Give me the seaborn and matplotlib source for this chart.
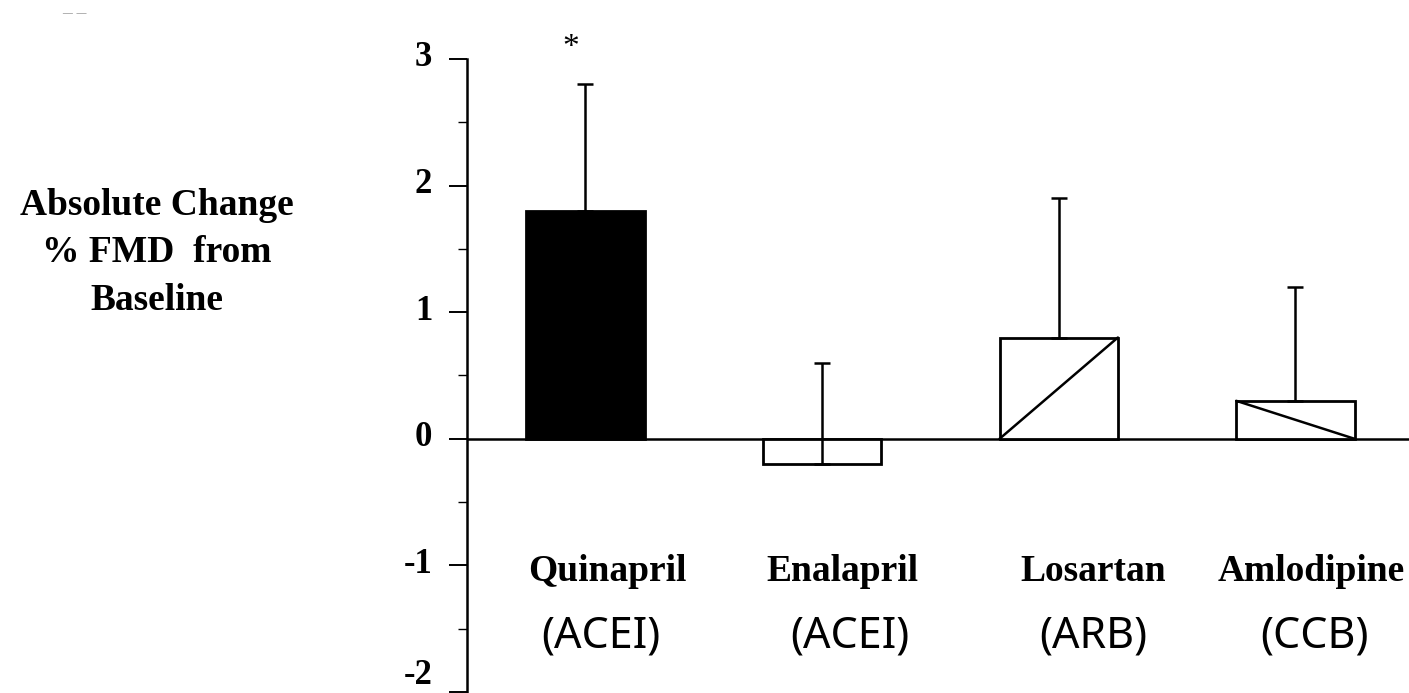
import matplotlib
matplotlib.use("Agg")
import matplotlib.pyplot as plt
import matplotlib.transforms as mtransforms
from matplotlib.ticker import MultipleLocator
import pandas as pd
import seaborn as sns

# Absolute change in %FMD from baseline, by treatment
drugs = ["Quinapril", "Enalapril", "Losartan", "Amlodipine"]
drug_classes = ["(ACEI)", "(ACEI)", "(ARB)", "(CCB)"]
change = [1.8, -0.2, 0.8, 0.3]
err_upper = [1.0, 0.8, 1.1, 0.9]
significance = ["*", "", "", ""]
yticks = [-2, -1, 0, 1, 2, 3]
ylabel = "Absolute Change\n% FMD  from\nBaseline"

# Styling per bar
fills = ["black", "white", "white", "white"]
diagonals = [None, None, "up", "down"]
name_dx = [0.094, 0.088, 0.146, 0.069]
class_dx = [0.065, 0.118, 0.146, 0.08]

sns.set_style("white")
plt.rcParams["font.family"] = ["Liberation Serif", "DejaVu Serif"]
plt.rcParams["axes.unicode_minus"] = False
plt.rcParams["text.color"] = "black"
plt.rcParams["ytick.color"] = "black"
plt.rcParams["ytick.labelcolor"] = "black"

W, H = 1409, 693
fig = plt.figure(figsize=(W / 100, H / 100), dpi=100)
ax = fig.add_axes([467 / W, 1 / H, 1 - 467 / W, 633 / H])

df = pd.DataFrame({"drug": drugs, "change": change})
sns.barplot(data=df, x="drug", y="change", hue="drug",
            palette=dict(zip(drugs, fills)), legend=False, width=0.5,
            edgecolor="black", linewidth=2.0, saturation=1,
            errorbar=None, ax=ax, zorder=2)

# upper error bars only
ax.errorbar(range(len(drugs)), change, yerr=[[0] * len(drugs), err_upper],
            fmt="none", ecolor="black", elinewidth=1.8, capsize=6,
            capthick=1.8, zorder=3)

ax.axhline(0, color="black", lw=1.8, zorder=1)

# diagonal fill pattern on the open bars
patches = sorted(ax.patches, key=lambda p: p.get_x())
for p, d in zip(patches, diagonals):
    if d is None:
        continue
    x0, w, h = p.get_x(), p.get_width(), p.get_height()
    ys = [0, h] if d == "up" else [h, 0]
    ax.plot([x0, x0 + w], ys, color="black", lw=1.8, zorder=3)

# significance marks
for i, s in enumerate(significance):
    if s:
        ax.text(i - 0.06, change[i] + err_upper[i] + 0.29, s, ha="center",
                va="center", fontsize=24, color="black", clip_on=False)

# category labels inside the plotting area
for i, (name, cls) in enumerate(zip(drugs, drug_classes)):
    ax.text(i + name_dx[i], -1.123, name, ha="center", va="baseline",
            fontsize=27, fontweight="bold", color="black")
    ax.text(i + class_dx[i], -1.652, cls, ha="center", va="baseline",
            fontsize=31, family=["Noto Sans", "DejaVu Sans"], color="black")

ax.set_ylim(-2, 3)
ax.set_xlim(-0.5, 3.48)
ax.set_xticks([])
ax.set_xlabel("")
ax.set_ylabel("")
ax.set_yticks(yticks)
ax.set_yticklabels([str(t) for t in yticks])
ax.yaxis.set_minor_locator(MultipleLocator(0.5))
ax.tick_params(axis="y", which="major", left=True, length=13, width=1.4,
               direction="out", pad=12, labelsize=25, colors="black")
ax.tick_params(axis="y", which="minor", left=True, length=6.5, width=1.0,
               direction="out", colors="black")
for lab, t in zip(ax.get_yticklabels(), yticks):
    lab.set_fontweight("bold")
    up = 0.2 if t == yticks[0] else 0.05
    shift = mtransforms.ScaledTranslation(0, up, fig.dpi_scale_trans)
    lab.set_transform(lab.get_transform() + shift)

for side in ["top", "right", "bottom"]:
    ax.spines[side].set_visible(False)
ax.spines["left"].set_linewidth(1.8)
ax.spines["left"].set_color("black")

fig.text(157 / W, 1 - 253 / H, ylabel, ha="center", va="center",
         multialignment="center", fontsize=27, fontweight="bold",
         linespacing=1.45, color="black")
fig.text(74 / W, 1 - 13 / H, "– –", ha="center", va="center",
         fontsize=14, color="#9a9a9a")

fig.savefig("out.png", dpi=100)
